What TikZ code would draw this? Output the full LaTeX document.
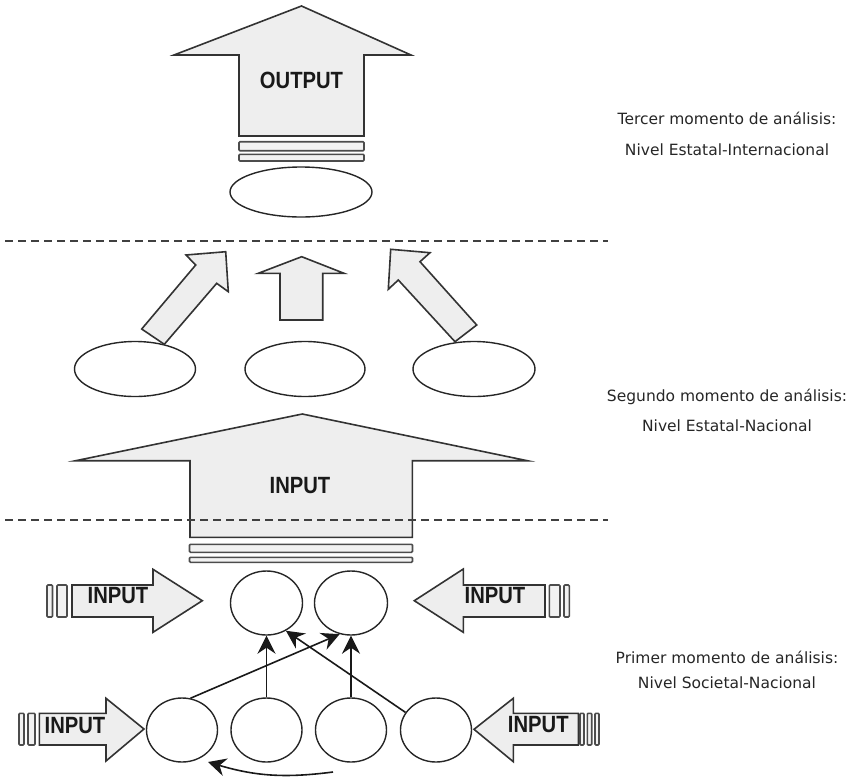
\documentclass[tikz,border=0pt]{standalone}
\usepackage{fontspec}
\setmainfont{DejaVu Sans}
\newfontfamily\boldcond{Liberation Sans}[FakeStretch=0.86]
\usetikzlibrary{shapes.geometric,arrows.meta}
\tikzset{
  fat/.style={draw=black!80, fill=gray!13, line width=1.6pt, line join=miter},
  barbox/.style={draw=gray!60!black, fill=gray!10, line width=1.6pt, rounded corners=1pt},
  oval/.style={ellipse, draw=black!85, line width=1.4pt, inner sep=0pt},
  conn/.style={-{Stealth[length=18pt,width=18pt,inset=6pt]}, line width=1.6pt, draw=black!90},
  sep/.style={draw=black!75, line width=2pt, dash pattern=on 8pt off 5pt},
  bigtxt/.style={font=\boldcond\bfseries\fontsize{23.5}{26}\selectfont, text=black!90, inner sep=0pt},
  sidelbl/.style={align=center, text=black!85, inner sep=0pt},
}
\begin{document}
\begin{tikzpicture}[x=1pt,y=-1pt]
\useasboundingbox (0,0) rectangle (857,780);

% ---------- top: OUTPUT arrow ----------
\draw[fat] (239,136) -- (239,55) -- (174,55) -- (301.5,6) -- (411,55) -- (364,55) -- (364,136) -- cycle;
\node[bigtxt] (outtxt) at (301.5,80) {OUTPUT};
\draw[barbox] (239,141.7) rectangle (364,150.7);
\draw[barbox] (239,154.3) rectangle (364,161);
\node[oval, minimum width=142pt, minimum height=50pt] (out) at (301,192) {};

% dashed separator 1
\draw[sep] (5,240.5) -- (608,240.5);

% ---------- middle ----------
\node[oval, minimum width=121pt, minimum height=55pt] (m1) at (135,369) {};
\node[oval, minimum width=120pt, minimum height=55pt] (m2) at (305,369) {};
\node[oval, minimum width=122pt, minimum height=55pt] (m3) at (474,369) {};

\draw[fat] (164.3,344.3) -- (216.7,283.3) -- (228.3,291.7) -- (225.7,251.7) -- (186,255) -- (195.7,265) -- (141.7,329) -- cycle;
\draw[fat] (280,320) -- (280,273.3) -- (258.3,273.3) -- (301.7,256.7) -- (344,273.3) -- (322.7,273.3) -- (322.7,320) -- cycle;
\draw[fat] (476.7,325) -- (455,341.7) -- (398.3,280) -- (388.3,289.3) -- (390.7,249.3) -- (430,252.7) -- (420,261.7) -- cycle;

% big INPUT arrow
\draw[fat] (190,537.3) -- (190,460.7) -- (75.7,460.7) -- (302.3,414) -- (527.3,460.7) -- (412.3,460.7) -- (412.3,537.3) -- cycle;
\node[bigtxt] (intxt) at (300,486) {INPUT};
\draw[barbox] (189.5,544.3) rectangle (412.5,552.3);
\draw[barbox] (189.5,557.3) rectangle (412.5,562.3);

% dashed separator 2
\draw[sep] (5,520) -- (608,520);

% ---------- bottom ----------
\node[oval, minimum width=72pt, minimum height=64pt] (t1) at (266.5,603) {};
\node[oval, minimum width=73pt, minimum height=64pt] (t2) at (351,603) {};
\node[oval, minimum width=71pt, minimum height=64pt] (b1) at (182,730) {};
\node[oval, minimum width=71pt, minimum height=64pt] (b2) at (266.5,730) {};
\node[oval, minimum width=71pt, minimum height=64pt] (b3) at (351,730) {};
\node[oval, minimum width=71pt, minimum height=64pt] (b4) at (436,730) {};

% side INPUT arrows
\draw[barbox] (47,585) rectangle (52.5,617);
\draw[barbox] (57,585) rectangle (67,617);
\draw[fat] (72,585) -- (153,585) -- (153,569.3) -- (202.3,600.7) -- (153,632.3) -- (153,617) -- (72,617) -- cycle;
\node[bigtxt] (inl1) at (118,596) {INPUT};

\draw[barbox] (19,713.3) rectangle (24,745);
\draw[barbox] (28,713.3) rectangle (35,745);
\draw[fat] (39.3,713.3) -- (106,713.3) -- (106,698.3) -- (144,729) -- (106,761) -- (106,745) -- (39.3,745) -- cycle;
\node[bigtxt] (inl2) at (75,726) {INPUT};

\draw[barbox] (549.3,585) rectangle (560,617);
\draw[barbox] (564,585) rectangle (569.3,617);
\draw[fat] (545,585) -- (463.3,585) -- (463.3,569) -- (414.3,600.7) -- (463.3,632.3) -- (463.3,617) -- (545,617) -- cycle;
\node[bigtxt] (inr1) at (495,596) {INPUT};

\draw[barbox] (580,713.3) rectangle (584,745);
\draw[barbox] (587.3,713.3) rectangle (591.7,745);
\draw[barbox] (595,713.3) rectangle (599,745);
\draw[fat] (578.3,713.3) -- (513.3,713.3) -- (513.3,698.3) -- (474,729.3) -- (513.3,761.7) -- (513.3,745) -- (578.3,745) -- cycle;
\node[bigtxt] (inr2) at (538.3,725) {INPUT};

% connectors
\draw[conn] (b2.north) -- (t1.south);
\draw[conn] (b3.north) -- (t2.south);
\draw[conn] (b1.75) -- (t2.250);
\draw[conn] (b4.150) -- (t1.305);
\coordinate (cs) at (333,772);
\coordinate (ce) at (208,762);
\draw[conn] (cs) to[bend left=12] (ce);

% right labels
\node[sidelbl, font=\fontsize{15.5}{31}\selectfont] (lab3) at (727,133.5) {Tercer momento de análisis:\\Nivel Estatal-Internacional};
\node[sidelbl, font=\fontsize{15.5}{30}\selectfont] (lab2) at (727,410) {Segundo momento de análisis:\\Nivel Estatal-Nacional};
\node[sidelbl, font=\fontsize{15.5}{25}\selectfont] (lab1) at (727,670) {Primer momento de análisis:\\Nivel Societal-Nacional};
\end{tikzpicture}
\end{document}
